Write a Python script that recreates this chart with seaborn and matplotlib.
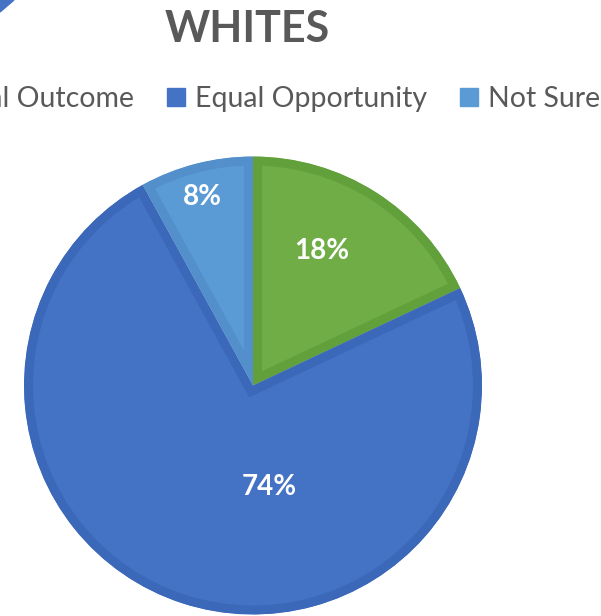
import matplotlib
matplotlib.use("Agg")
import matplotlib.pyplot as plt
import seaborn as sns
from matplotlib.lines import Line2D
from matplotlib.patches import Polygon

categories = ["Equal Outcome", "Equal Opportunity", "Not Sure"]
shares = [18, 74, 8]
pct_labels = ["18%", "74%", "8%"]

fill_colors = ["#70AD47", "#4472C4", "#5B9BD5"]
edge_colors = ["#61A03A", "#3C68B9", "#5390CB"]
# label spots in pie units (radius = 1), as Excel placed them
label_xy = [(0.299, 0.587), (0.070, -0.443), (-0.221, 0.821)]

sns.set_theme(style="white")
plt.rcParams["font.family"] = ["Lato", "DejaVu Sans"]

W, H = 601, 616
fig = plt.figure(figsize=(W / 100, H / 100), dpi=100)

# pie centred at (253, 385.5) px from top, radius 229 px
cx, cy, r = 253, 385.5, 229
ax = fig.add_axes([(cx - r) / W, (H - cy - r) / H, 2 * r / W, 2 * r / H])

wedges, _ = ax.pie(shares, colors=fill_colors, startangle=90, counterclock=False,
                   wedgeprops=dict(linewidth=13, joinstyle="miter"))
for w, ec in zip(wedges, edge_colors):
    w.set_edgecolor(ec)
    w.set_clip_on(True)
    w.set_clip_path(w)  # keep the border on the inside of each slice

for (x, y), txt in zip(label_xy, pct_labels):
    ax.text(x, y, txt, ha="center", va="center", color="white",
            fontsize=20, fontweight="bold")

ax.set_xlim(-1, 1)
ax.set_ylim(-1, 1)
ax.set_aspect("equal")
ax.axis("off")

fig.text(247 / W, 1 - 28.5 / H, "WHITES", ha="center", va="center",
         fontsize=31, fontweight="bold", color="#595959")

handles = [Line2D([], [], marker="s", linestyle="", markersize=13, color=c)
           for c in fill_colors]
leg = fig.legend(handles, categories, loc="center left", ncol=3,
                 bbox_to_anchor=(0, 1 - 99 / H), frameon=False, borderpad=0,
                 fontsize=20.5, handlelength=0.75, handletextpad=0.3,
                 columnspacing=1.1, labelcolor="#595959")

# slide the legend so "Equal Opportunity" starts where it does in the original
fig.canvas.draw()
bb = leg.get_texts()[1].get_window_extent()
shift = (195 - bb.x0) / W
leg.set_bbox_to_anchor((shift, 1 - 99 / H), transform=fig.transFigure)

# corner of a blue shape poking in at the top left
fig.patches.append(Polygon([(0, 1), (14 / W, 1), (0, 1 - 12 / H)], closed=True,
                           transform=fig.transFigure, color="#4472C4"))

fig.savefig("out.png", dpi=100)
